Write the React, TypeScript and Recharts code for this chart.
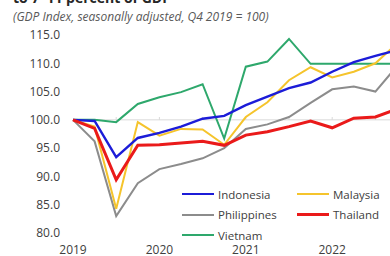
import React from "react";
import { LineChart, Line, XAxis, YAxis, ReferenceLine, Legend } from "recharts";

const quarters = [
  "Q4 2019", "Q1 2020", "Q2 2020", "Q3 2020", "Q4 2020", "Q1 2021", "Q2 2021", "Q3 2021",
  "Q4 2021", "Q1 2022", "Q2 2022", "Q3 2022", "Q4 2022", "Q1 2023", "Q2 2023", "Q3 2023",
];
const yearTicks = ["Q4 2019", "Q4 2020", "Q4 2021", "Q4 2022"];
const yearLabels = ["2019", "2020", "2021", "2022"];
const minorTicks = ["Q2 2020", "Q4 2020", "Q2 2021", "Q4 2021", "Q2 2022", "Q4 2022", "Q2 2023"];
const yTicks = [80, 85, 90, 95, 100, 105, 110, 115];

const indonesia = [100, 99.8, 93.4, 96.8, 97.7, 98.8, 100.2, 100.7, 102.6, 104.1, 105.6, 106.6, 108.5, 110.2, 111.3, 112.3];
const malaysia = [100, 98.8, 84.3, 99.6, 97.2, 98.4, 98.3, 95.6, 100.5, 103.1, 107.0, 109.3, 107.5, 108.5, 110.0, 113.5];
const philippines = [100, 96.2, 83.0, 88.8, 91.3, 92.2, 93.2, 95.0, 98.4, 99.2, 100.5, 103.0, 105.4, 105.9, 105.0, 109.5];
const thailand = [100, 98.5, 89.4, 95.5, 95.6, 95.9, 96.2, 95.5, 97.3, 97.9, 98.8, 99.8, 98.6, 100.3, 100.5, 101.9];
const vietnam = [100, 100, 99.6, 102.8, 104.0, 104.9, 106.3, 96.7, 109.4, 110.3, 114.3, 109.9, 109.9, 109.9, 109.9, 109.9];

const legendOrder = ["Indonesia", "Malaysia", "Philippines", "Thailand", "Vietnam"];

const data = quarters.map((q, i) => ({
  q,
  Indonesia: indonesia[i],
  Malaysia: malaysia[i],
  Philippines: philippines[i],
  Thailand: thailand[i],
  Vietnam: vietnam[i],
}));

const FONT = "'Open Sans', sans-serif";
const COLORS: Record<string, string> = {
  Indonesia: "#1c1cd8",
  Malaysia: "#f5c42c",
  Philippines: "#8c8c8c",
  Thailand: "#ea1a1a",
  Vietnam: "#2ea86c",
};
const WIDTHS: Record<string, number> = {
  Indonesia: 2.4,
  Malaysia: 2,
  Philippines: 2,
  Thailand: 3,
  Vietnam: 2,
};

const renderLegend = (props: any) => {
  const payload = [...(props.payload || [])].sort(
    (a: any, b: any) => legendOrder.indexOf(a.value) - legendOrder.indexOf(b.value)
  );
  return (
    <div style={{ display: "grid", gridTemplateColumns: "115px 115px", fontFamily: FONT }}>
      {payload.map((p: any) => (
        <div key={p.value} style={{ display: "flex", alignItems: "center", height: 20.5 }}>
          <span
            style={{
              display: "inline-block",
              width: 32,
              height: WIDTHS[p.value] >= 3 ? 3 : 2,
              background: COLORS[p.value],
              marginRight: 4,
            }}
          />
          <span style={{ fontSize: 11.5, color: "#404040" }}>{p.value}</span>
        </div>
      ))}
    </div>
  );
};

export default function App() {
  return (
    <div
      style={{
        position: "absolute",
        left: 0,
        top: 0,
        width: 390,
        height: 256,
        overflow: "hidden",
        background: "#fff",
      }}
    >
      <div
        style={{
          position: "absolute",
          left: 13,
          top: -9,
          fontFamily: FONT,
          fontWeight: 700,
          fontSize: 14,
          lineHeight: "14px",
          color: "#262626",
          whiteSpace: "nowrap",
        }}
      >
        to 7–11 percent of GDP
      </div>
      <div
        style={{
          position: "absolute",
          left: 13,
          top: 9,
          fontFamily: FONT,
          fontStyle: "italic",
          fontSize: 12,
          lineHeight: "16px",
          color: "#595959",
          whiteSpace: "nowrap",
        }}
      >
        (GDP Index, seasonally adjusted, Q4 2019 = 100)
      </div>
      <div style={{ position: "absolute", left: 0, top: 0 }}>
        <LineChart width={400} height={256} data={data} margin={{ top: 35, right: 3, bottom: 0, left: 0 }}>
          <XAxis
            dataKey="q"
            ticks={yearTicks}
            tickFormatter={(v: string) => yearLabels[yearTicks.indexOf(v)]}
            axisLine={false}
            tickLine={false}
            tickMargin={6}
            height={23}
            interval={0}
            tick={{ fontFamily: FONT, fontSize: 12, fill: "#404040" }}
          />
          <YAxis
            domain={[80, 115]}
            ticks={yTicks}
            tickFormatter={(v: number) => v.toFixed(1)}
            axisLine={false}
            tickLine={false}
            width={73}
            tickMargin={7}
            tick={{ fontFamily: FONT, fontSize: 12, fill: "#404040" }}
          />
          <ReferenceLine y={100} stroke="#d9d9d9" strokeWidth={1} />
          {minorTicks.map((t) => (
            <ReferenceLine
              key={t}
              segment={[
                { x: t, y: 100 },
                { x: t, y: 100.5 },
              ]}
              stroke="#d9d9d9"
              strokeWidth={1}
            />
          ))}
          <Legend
            content={renderLegend}
            layout="horizontal"
            verticalAlign="middle"
            align="center"
            wrapperStyle={{ position: "absolute", left: 182, top: 184, width: 230 }}
          />
          {["Vietnam", "Philippines", "Malaysia", "Indonesia", "Thailand"].map((name) => (
            <Line
              key={name}
              type="linear"
              dataKey={name}
              stroke={COLORS[name]}
              strokeWidth={WIDTHS[name]}
              dot={false}
              activeDot={false}
              isAnimationActive={false}
            />
          ))}
        </LineChart>
      </div>
    </div>
  );
}
